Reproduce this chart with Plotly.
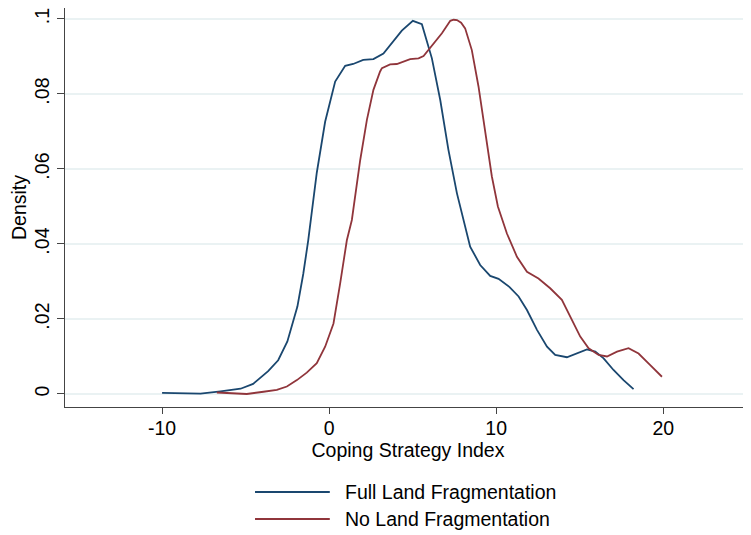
import plotly.graph_objects as go

series_names = ["Full Land Fragmentation", "No Land Fragmentation"]

full_x = [-10, -7.7, -6.5, -5.3, -4.55, -3.65, -3.05, -2.5, -1.9, -1.55, -1.25, -0.95, -0.74, -0.24,
          0.36, 0.96, 1.44, 2.04, 2.65, 3.25, 4.35, 5.01, 5.55, 6.15, 6.65, 7.14, 7.65, 8.44, 9.04,
          9.64, 10.14, 10.8, 11.34, 11.84, 12.44, 13.04, 13.53, 14.23, 14.83, 15.43, 15.93, 16.43,
          17.02, 17.62, 18.22]
full_y = [0.0003, 0.0001, 0.0007, 0.0014, 0.0027, 0.0061, 0.009, 0.014, 0.0233, 0.032, 0.041, 0.052,
          0.059, 0.0726, 0.0833, 0.0875, 0.088, 0.0891, 0.0893, 0.0908, 0.0969, 0.0995, 0.0986,
          0.0895, 0.0784, 0.0651, 0.0535, 0.0393, 0.0344, 0.0315, 0.0307, 0.0285, 0.026, 0.0224,
          0.0171, 0.0126, 0.0104, 0.0098, 0.0108, 0.0119, 0.0113, 0.0095, 0.0064, 0.0037, 0.0013]

no_x = [-6.72, -4.93, -3.93, -3.13, -2.53, -1.93, -1.34, -0.74, -0.24, 0.26, 0.66, 1.06, 1.36, 1.86,
        2.26, 2.65, 3.05, 3.16, 3.65, 4.05, 4.85, 5.35, 5.65, 6.25, 6.75, 7.25, 7.45, 7.65, 7.9, 8.14,
        8.54, 8.94, 9.34, 9.74, 10.1, 10.64, 11.24, 11.84, 12.53, 13.23, 13.93, 14.53, 15.03, 15.53,
        16.13, 16.63, 17.23, 17.92, 18.52, 19.22, 19.92]
no_y = [0.0004, 0.0000, 0.0006, 0.0011, 0.002, 0.0037, 0.0057, 0.0082, 0.0126, 0.0188, 0.0295, 0.041,
        0.0464, 0.0624, 0.0731, 0.0811, 0.086, 0.0869, 0.0879, 0.088, 0.0893, 0.0895, 0.0901, 0.0935,
        0.0962, 0.0995, 0.0998, 0.0997, 0.099, 0.0975, 0.0917, 0.082, 0.0695, 0.058, 0.050, 0.0428,
        0.0366, 0.0326, 0.0308, 0.0282, 0.0251, 0.0197, 0.0153, 0.0122, 0.0104, 0.01, 0.0113, 0.0122,
        0.0108, 0.0077, 0.0046]

x_ticks = [-10, 0, 10, 20]
x_tick_labels = ["-10", "0", "10", "20"]
y_ticks = [0, 0.02, 0.04, 0.06, 0.08, 0.1]
y_tick_labels = ["0", ".02", ".04", ".06", ".08", ".1"]

colors = ["#1a476f", "#90353b"]
FONT = "Liberation Sans, Arial, Helvetica, sans-serif"
FS = 19.5
AXC = "#444444"

fig = go.Figure()
for name, xs, ys, c in [(series_names[0], full_x, full_y, colors[0]),
                        (series_names[1], no_x, no_y, colors[1])]:
    fig.add_trace(go.Scatter(x=xs, y=ys, mode="lines", name=name,
                             line=dict(color=c, width=1.8), showlegend=False))

# manual legend (Stata style, long line samples)
leg_rows = [-0.213, -0.2807]
for name, c, yy in zip(series_names, colors, leg_rows):
    fig.add_shape(type="line", xref="paper", yref="paper", x0=0.277, x1=0.386, y0=yy, y1=yy,
                  line=dict(color=c, width=1.8))
    fig.add_annotation(xref="paper", yref="paper", x=0.405, y=yy, text=name, showarrow=False,
                       xanchor="left", yanchor="middle", font=dict(family=FONT, size=FS, color="#000"))

fig.update_layout(
    width=751, height=535,
    margin=dict(l=57, r=8, t=0, b=136),
    paper_bgcolor="white", plot_bgcolor="white",
    font=dict(family=FONT, size=FS, color="#000"),
)
fig.update_xaxes(range=[-15.81, 25.25], tickvals=x_ticks, ticktext=x_tick_labels,
                 showgrid=False, zeroline=False,
                 showline=True, linecolor=AXC, linewidth=1.3, ticks="outside", ticklen=6,
                 tickcolor=AXC, tickwidth=1.3, ticklabelstandoff=-3,
                 title=dict(text="Coping Strategy Index", standoff=3, font=dict(size=FS)),
                 tickfont=dict(size=FS))
fig.update_yaxes(range=[-0.00347, 0.10293], tickvals=y_ticks, ticktext=y_tick_labels, tickangle=-90,
                 showgrid=True, gridcolor="#eaf2f3", gridwidth=1.5, zeroline=False,
                 showline=True, linecolor=AXC, linewidth=1.3, ticks="outside", ticklen=7,
                 tickcolor=AXC, tickwidth=1.3, ticklabeloverflow="allow",
                 title=dict(text="Density", standoff=0, font=dict(size=FS)),
                 tickfont=dict(size=FS))

fig.write_html("out.html")
